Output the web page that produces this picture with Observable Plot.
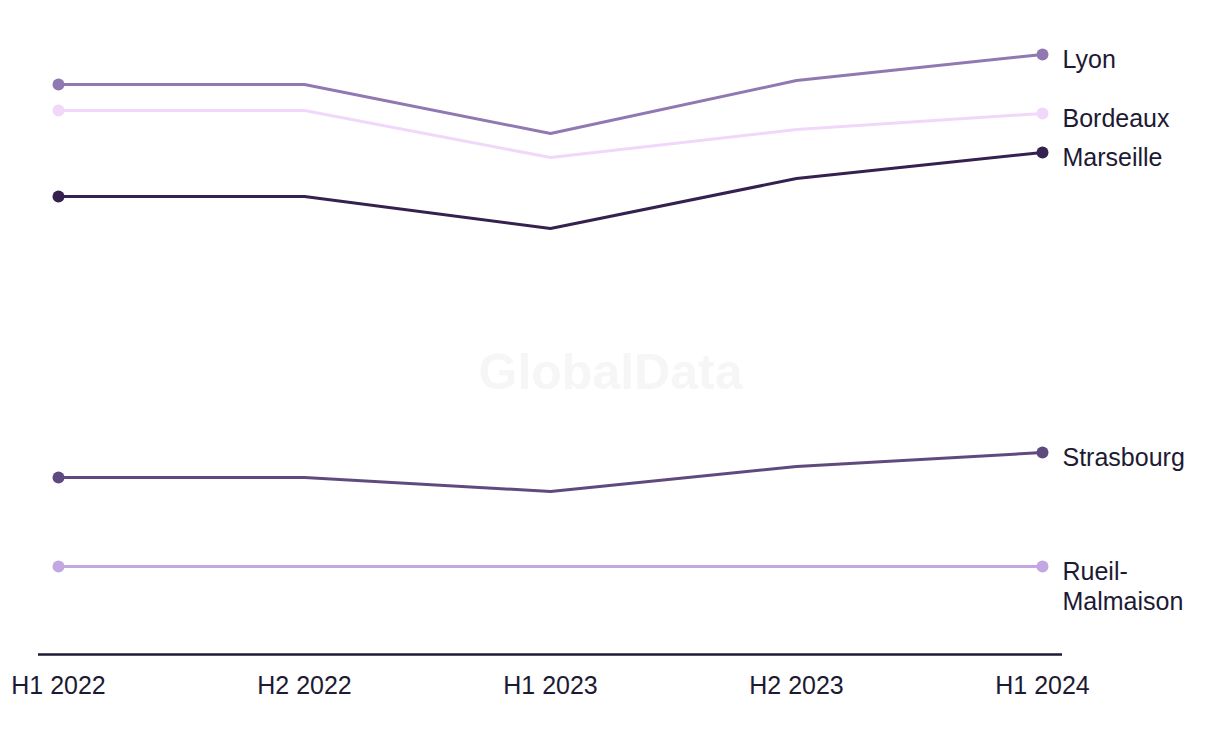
<!DOCTYPE html>
<html>
<head>
<meta charset="utf-8">
<script src="https://cdn.jsdelivr.net/npm/d3@7"></script>
<script src="https://cdn.jsdelivr.net/npm/@observablehq/plot@0.6"></script>
<style>
  html, body { margin: 0; padding: 0; background: #fff; }
  #chart { width: 1220px; height: 744px; }
</style>
</head>
<body>
<div id="chart"></div>
<script>
const periods = ["H1 2022", "H2 2022", "H1 2023", "H2 2023", "H1 2024"];
const cities = ["Lyon", "Bordeaux", "Marseille", "Strasbourg", "Rueil-Malmaison"];
const labels = ["Lyon", "Bordeaux", "Marseille", "Strasbourg", "Rueil-\nMalmaison"];
const colors = ["#9079b3", "#f1d8fb", "#35214f", "#5f4a80", "#c2a7e3"];
const lyon = [285, 285, 260.5, 287, 300];
const bordeaux = [272, 272, 248.5, 262.5, 270.5];
const marseille = [229, 229, 213, 238, 251];
const strasbourg = [88.5, 88.5, 81.5, 94, 101];
const rueil = [44, 44, 44, 44, 44];
const seriesValues = [lyon, bordeaux, marseille, strasbourg, rueil];

const data = cities.flatMap((c, i) =>
  periods.map((p, j) => ({ city: c, label: labels[i], period: p, value: seriesValues[i][j], idx: j }))
);
const ends = data.filter(d => d.idx === 0 || d.idx === periods.length - 1);
const lasts = data.filter(d => d.idx === periods.length - 1);

const textColor = "#1d1a33";

const chart = Plot.plot({
  width: 1220,
  height: 744,
  marginLeft: 38,
  marginRight: 158,
  marginTop: 54,
  marginBottom: 90,
  style: { fontFamily: "'Liberation Sans', Arial, sans-serif", color: textColor, background: "#fff" },
  x: { type: "point", domain: periods, padding: 0.0792, label: null },
  y: { domain: [0, 300], axis: null },
  color: { domain: cities, range: colors },
  marks: [
    Plot.text(["GlobalData"], {
      frameAnchor: "middle", dx: 60, dy: 18, text: d => d,
      fontSize: 50, fontWeight: "bold", fill: "#f6f6f6"
    }),
    Plot.ruleY([0], { stroke: textColor, strokeWidth: 2.5 }),
    Plot.line(data, { x: "period", y: "value", z: "city", stroke: "city", strokeWidth: 3 }),
    Plot.dot(ends, { x: "period", y: "value", fill: "city", r: 6, stroke: null }),
    Plot.text(lasts, {
      x: "period", y: "value", text: "label", textAnchor: "start", lineAnchor: "top",
      dx: 20, dy: -8, fontSize: 25, lineHeight: 1.2, fill: textColor
    }),
    Plot.axisX({ tickSize: 0, tickPadding: 22, fontSize: 25, label: null, fill: textColor })
  ]
});
document.getElementById("chart").appendChild(chart);
</script>
</body>
</html>
